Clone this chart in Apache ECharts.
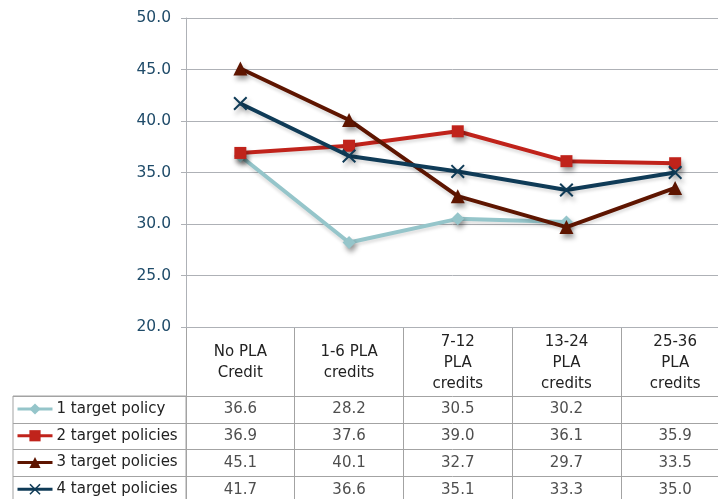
<!DOCTYPE html>
<html>
<head>
<meta charset="utf-8">
<script src="https://cdn.jsdelivr.net/npm/echarts@6/dist/echarts.min.js"></script>
<style>
  html, body { margin: 0; padding: 0; background: #ffffff; }
  #chart { width: 718px; height: 499px; }
</style>
</head>
<body>
<div id="chart"></div>
<script>
// Categories (PLA credit bands) and the four policy groups
const categories = ['No PLA\nCredit', '1-6 PLA\ncredits', '7-12\nPLA\ncredits', '13-24\nPLA\ncredits', '25-36\nPLA\ncredits'];
const seriesNames = ['1 target policy', '2 target policies', '3 target policies', '4 target policies'];
const oneTarget    = [36.6, 28.2, 30.5, 30.2, null];
const twoTargets   = [36.9, 37.6, 39.0, 36.1, 35.9];
const threeTargets = [45.1, 40.1, 32.7, 29.7, 33.5];
const fourTargets  = [41.7, 36.6, 35.1, 33.3, 35.0];
const yMin = 20, yMax = 50, yStep = 5;

const allValues = [oneTarget, twoTargets, threeTargets, fourTargets];
const colors = ['#95c5ca', '#c0231b', '#5e1500', '#0f3b57'];
const crossPath = 'path://M0,1 L1,0 L5,4 L9,0 L10,1 L6,5 L10,9 L9,10 L5,6 L1,10 L0,9 L4,5 Z';
const symbols = ['diamond', 'rect', 'triangle', crossPath];
const symbolSizes = [13, 12, 14, 14];

const FONT = 'DejaVu Sans';
const gridColor = '#aeb1b6';
const tableLine = '#a3a3a3';

// Layout of the plot and the data table beneath it (the table runs past the right/bottom edge)
const plotLeft = 186, plotWidth = 543.5, plotTop = 18, plotHeight = 309;
const tableTop = plotTop + plotHeight, headerHeight = 69, rowsHeight = 107;
const legendLeft = 13;

// Cells of the data table: one labelled point per (column, row)
const cellData = [];
allValues.forEach((vals, r) => {
  vals.forEach((v, c) => {
    if (v !== null) cellData.push([c, r, v]);
  });
});

const lineSeries = allValues.map((vals, i) => ({
  name: seriesNames[i],
  type: 'line',
  xAxisIndex: 0,
  yAxisIndex: 0,
  data: vals,
  connectNulls: false,
  symbol: symbols[i],
  symbolSize: symbolSizes[i],
  showAllSymbol: true,
  color: colors[i],
  lineStyle: {
    width: 4, color: colors[i],
    shadowColor: 'rgba(0,0,0,0.12)', shadowBlur: 3, shadowOffsetY: 3
  },
  itemStyle: {
    color: colors[i],
    shadowColor: 'rgba(0,0,0,0.38)', shadowBlur: 5, shadowOffsetX: 2, shadowOffsetY: 4
  },
  emphasis: { disabled: true },
  z: 3 + i
}));

const gridBase = { outerBoundsMode: 'none', containLabel: false };

const chart = echarts.init(document.getElementById('chart'), null, { renderer: 'canvas' });

chart.setOption({
  animation: false,
  backgroundColor: '#ffffff',
  textStyle: { fontFamily: FONT },
  legend: {
    data: seriesNames,
    orient: 'vertical',
    left: legendLeft + 3,
    top: tableTop + headerHeight + 5,
    itemWidth: 35,
    itemHeight: 14,
    itemGap: 10.75,
    padding: 0,
    selectedMode: false,
    textStyle: { fontFamily: FONT, fontSize: 15, color: '#222222', lineHeight: 16, padding: [0, 0, 0, -1] },
    itemStyle: { shadowBlur: 0, shadowOffsetX: 0, shadowOffsetY: 0 },
    lineStyle: { width: 3, shadowBlur: 0, shadowOffsetY: 0 }
  },
  grid: [
    Object.assign({ left: plotLeft, top: plotTop, width: plotWidth, height: plotHeight }, gridBase),
    Object.assign({ left: plotLeft, top: tableTop, width: plotWidth, height: headerHeight + rowsHeight }, gridBase),
    Object.assign({ left: plotLeft, top: tableTop + headerHeight, width: plotWidth, height: rowsHeight }, gridBase),
    Object.assign({ left: legendLeft, top: tableTop + headerHeight, width: plotLeft - legendLeft, height: rowsHeight,
      show: true, borderColor: tableLine, borderWidth: 1, backgroundColor: 'transparent' }, gridBase)
  ],
  xAxis: [
    {
      gridIndex: 0, type: 'category', data: categories, boundaryGap: true,
      axisLine: { show: true, lineStyle: { color: gridColor, width: 1 } },
      axisTick: { show: false },
      splitLine: { show: false },
      axisLabel: {
        interval: 0, margin: 36, verticalAlign: 'middle', align: 'center',
        fontFamily: FONT, fontSize: 15, lineHeight: 21, color: '#222222'
      }
    },
    {
      gridIndex: 1, type: 'category', data: categories, boundaryGap: true,
      axisLine: { show: false }, axisTick: { show: false }, axisLabel: { show: false },
      splitLine: { show: true, interval: 0, showMinLine: true, showMaxLine: true, lineStyle: { color: tableLine, width: 1 } }
    },
    {
      gridIndex: 2, type: 'category', data: categories, boundaryGap: true,
      axisLine: { show: false }, axisTick: { show: false }, axisLabel: { show: false },
      splitLine: { show: false }
    },
    {
      gridIndex: 3, type: 'value', show: false
    }
  ],
  yAxis: [
    {
      gridIndex: 0, type: 'value', min: yMin, max: yMax, interval: yStep,
      axisLine: { show: true, lineStyle: { color: gridColor, width: 1 } },
      axisTick: { show: true, length: 5, lineStyle: { color: gridColor } },
      splitLine: { show: true, lineStyle: { color: gridColor, width: 1 } },
      axisLabel: {
        margin: 15, fontFamily: FONT, fontSize: 15.5, color: '#1f4b69',
        formatter: v => v.toFixed(1)
      }
    },
    {
      gridIndex: 1, type: 'value', show: false
    },
    {
      gridIndex: 2, type: 'category', data: seriesNames, inverse: true, boundaryGap: true,
      axisLine: { show: false }, axisTick: { show: false }, axisLabel: { show: false },
      splitLine: { show: true, interval: 0, showMinLine: true, showMaxLine: true, lineStyle: { color: tableLine, width: 1 } }
    },
    {
      gridIndex: 3, type: 'category', data: seriesNames, inverse: true, boundaryGap: true,
      axisLine: { show: false }, axisTick: { show: false }, axisLabel: { show: false },
      splitLine: { show: true, interval: 0, lineStyle: { color: tableLine, width: 1 } }
    }
  ],
  series: lineSeries.concat([
    {
      name: 'table cells',
      type: 'scatter',
      xAxisIndex: 2,
      yAxisIndex: 2,
      data: cellData,
      symbolSize: 0,
      silent: true,
      label: {
        show: true, position: 'inside',
        fontFamily: FONT, fontSize: 15, color: '#222222',
        formatter: p => p.value[2].toFixed(1)
      },
      emphasis: { disabled: true },
      z: 2
    }
  ])
});
</script>
</body>
</html>
